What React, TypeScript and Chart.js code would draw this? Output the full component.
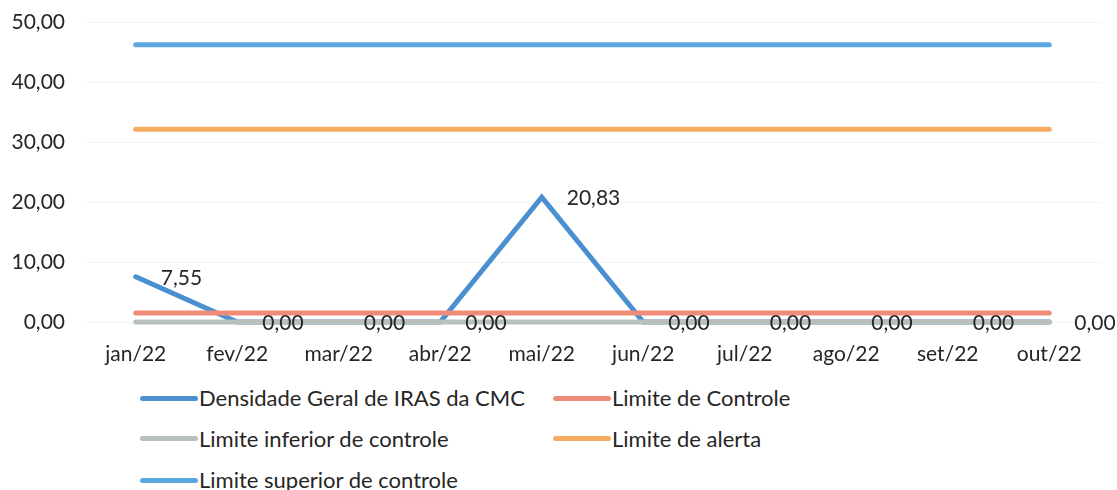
import React, { useEffect, useRef } from "react";
import { Chart, registerables } from "chart.js";

Chart.register(...registerables);

const categories = ["jan/22", "fev/22", "mar/22", "abr/22", "mai/22", "jun/22", "jul/22", "ago/22", "set/22", "out/22"];
const densidadeGeral = [7.55, 0, 0, 0, 20.83, 0, 0, 0, 0, 0];
const limiteControle = [1.5, 1.5, 1.5, 1.5, 1.5, 1.5, 1.5, 1.5, 1.5, 1.5];
const limiteInferior = [0, 0, 0, 0, 0, 0, 0, 0, 0, 0];
const limiteAlerta = [32.2, 32.2, 32.2, 32.2, 32.2, 32.2, 32.2, 32.2, 32.2, 32.2];
const limiteSuperior = [46.3, 46.3, 46.3, 46.3, 46.3, 46.3, 46.3, 46.3, 46.3, 46.3];
const yTickValues = [0, 10, 20, 30, 40, 50];

const seriesNames = [
  "Densidade Geral de IRAS da CMC",
  "Limite de Controle",
  "Limite inferior de controle",
  "Limite de alerta",
  "Limite superior de controle",
];
const seriesColors = ["#4a8fd0", "#ef8c79", "#b8c0bb", "#f5ac60", "#5ba8e0"];

const TEXT = "#262626";
const FONT = "Lato";

const fmt = (v: number) => v.toFixed(2).replace(".", ",");

const pointLabels = {
  id: "pointLabels",
  afterDatasetsDraw(chart: any) {
    const meta = chart.getDatasetMeta(0);
    const ctx = chart.ctx;
    ctx.save();
    ctx.font = `21px ${FONT}`;
    ctx.fillStyle = TEXT;
    ctx.textAlign = "left";
    ctx.textBaseline = "middle";
    meta.data.forEach((pt: any, i: number) => {
      ctx.fillText(fmt(densidadeGeral[i]), pt.x + 25, pt.y + 1);
    });
    ctx.restore();
  },
};

const legendLayout = [
  { idx: 0, x: 140, y: 398 },
  { idx: 1, x: 553, y: 398 },
  { idx: 2, x: 140, y: 438.5 },
  { idx: 3, x: 553, y: 438.5 },
  { idx: 4, x: 140, y: 480 },
];

export default function App() {
  const canvasRef = useRef<HTMLCanvasElement | null>(null);

  useEffect(() => {
    if (!canvasRef.current) return;
    const seriesData = [densidadeGeral, limiteControle, limiteInferior, limiteAlerta, limiteSuperior];
    const chart = new Chart(canvasRef.current, {
      type: "line",
      data: {
        labels: categories,
        datasets: seriesData.map((d, i) => ({
          label: seriesNames[i],
          data: d,
          borderColor: seriesColors[i],
          backgroundColor: seriesColors[i],
          borderWidth: 5,
          borderCapStyle: "round" as const,
          borderJoinStyle: "miter" as const,
          pointRadius: 0,
          pointHoverRadius: 0,
          tension: 0,
          fill: false,
          clip: false as const,
          order: 5 - i,
        })),
      },
      options: {
        responsive: false,
        animation: false,
        layout: { padding: { top: 12, right: 17, left: 0, bottom: 0 } },
        plugins: {
          legend: { display: false },
          tooltip: { enabled: false },
        },
        scales: {
          x: {
            offset: true,
            grid: { display: false, drawTicks: false },
            border: { display: false },
            ticks: {
              color: TEXT,
              font: { family: FONT, size: 21 },
              padding: 20,
              maxRotation: 0,
              autoSkip: false,
            },
            afterFit: (scale: any) => {
              scale.height = 53;
            },
          },
          y: {
            min: 0,
            max: 50,
            grid: { color: "#f3f3f3", lineWidth: 1, drawTicks: false },
            border: { display: false },
            afterBuildTicks: (scale: any) => {
              scale.ticks = yTickValues.map((v) => ({ value: v }));
            },
            ticks: {
              color: TEXT,
              font: { family: FONT, size: 21 },
              padding: 20,
              callback: (v: any) => fmt(Number(v)),
            },
            afterFit: (scale: any) => {
              scale.width = 85;
            },
          },
        },
      },
      plugins: [pointLabels],
    });
    return () => chart.destroy();
  }, []);

  return (
    <div style={{ position: "fixed", left: 0, top: 0, width: 1117, height: 490, background: "#ffffff", overflow: "hidden" }}>
      <canvas ref={canvasRef} width={1117} height={385} style={{ position: "absolute", left: 0, top: -10 }} />
      {legendLayout.map((item) => (
        <div
          key={item.idx}
          style={{
            position: "absolute",
            left: item.x,
            top: item.y - 15,
            height: 30,
            display: "flex",
            alignItems: "center",
            whiteSpace: "nowrap",
            fontFamily: FONT,
            fontSize: 22,
            color: TEXT,
            lineHeight: 1,
          }}
        >
          <span
            style={{
              display: "inline-block",
              width: 58,
              height: 5,
              borderRadius: 3,
              background: seriesColors[item.idx],
              marginRight: 1,
            }}
          />
          <span>{seriesNames[item.idx]}</span>
        </div>
      ))}
    </div>
  );
}
